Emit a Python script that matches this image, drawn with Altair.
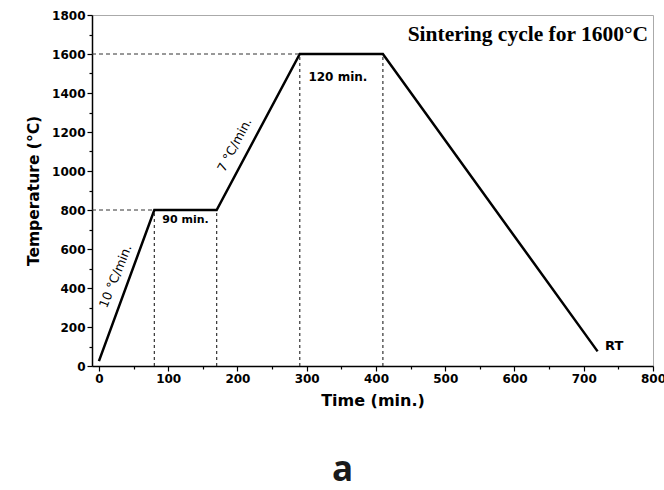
import altair as alt
import pandas as pd

# Main sintering profile
time_min = [0, 80, 170, 290, 410, 720]
temp_c = [25, 800, 800, 1600, 1600, 75]

# Guide lines (dashed)
v_x = [80, 170, 290, 410]
v_top = [800, 800, 1600, 1600]
h_y = [800, 1600]
h_end = [80, 290]

x_ticks = list(range(0, 801, 50))
y_ticks = list(range(0, 1801, 100))

profile = pd.DataFrame({"t": time_min, "T": temp_c})
vdf = pd.DataFrame({"x": v_x, "y0": [0] * len(v_x), "y1": v_top})
hdf = pd.DataFrame({"x0": [-10] * len(h_y), "x1": h_end, "y": h_y})

xs = alt.Scale(domain=[-10, 800], nice=False, zero=False)
ys = alt.Scale(domain=[0, 1800], nice=False)

AXF = "DejaVu Sans"

x_axis = alt.Axis(
    values=x_ticks,
    format="d",
    labelOverlap=False,
    labelFlush=False,
    labelExpr="datum.value % 100 === 0 ? datum.label : ''",
    title="Time (min.)",
    grid=False,
    labelFont=AXF, labelFontWeight="bold", labelFontSize=12, labelColor="black",
    titleFont=AXF, titleFontWeight="bold", titleFontSize=16, titleColor="black",
    titlePadding=8,
    tickSize={"condition": {"test": "datum.value % 100 === 0", "value": 5}, "value": 3},
)
y_axis = alt.Axis(
    values=y_ticks,
    format="d",
    labelOverlap=False,
    labelFlush=False,
    labelExpr="datum.value % 200 === 0 ? datum.label : ''",
    title="Temperature (°C)",
    grid=False,
    labelFont=AXF, labelFontWeight="bold", labelFontSize=12, labelColor="black",
    titleFont=AXF, titleFontWeight="bold", titleFontSize=15.5, titleColor="black",
    titlePadding=10,
    tickSize={"condition": {"test": "datum.value % 200 === 0", "value": 5}, "value": 3},
)


def X(field):
    return alt.X(field, scale=xs, axis=x_axis, title="Time (min.)")


def Y(field):
    return alt.Y(field, scale=ys, axis=y_axis, title="Temperature (°C)")


line = alt.Chart(profile).mark_line(color="black", strokeWidth=2.5, strokeJoin="miter").encode(
    x=X("t:Q"),
    y=Y("T:Q"),
)

vrules = alt.Chart(vdf).mark_rule(color="#333333", strokeWidth=1.2, strokeDash=[3, 3]).encode(
    x=X("x:Q"), y=Y("y0:Q"), y2="y1:Q"
)
hrules = alt.Chart(hdf).mark_rule(color="#333333", strokeWidth=1, strokeDash=[4, 3]).encode(
    x=X("x0:Q"), x2="x1:Q", y=Y("y:Q")
)


def label(text, x, y, size, angle=0, font=AXF, weight="bold", align="center", baseline="middle"):
    return alt.Chart(pd.DataFrame({"x": [x], "y": [y], "s": [text]})).mark_text(
        font=font, fontWeight=weight, fontSize=size, angle=angle, align=align,
        baseline=baseline, color="black"
    ).encode(x=X("x:Q"), y=Y("y:Q"), text="s:N")


texts = [
    label("10 °C/min.", 24, 460, 12.5, angle=292, weight="normal"),
    label("7 °C/min.", 196, 1133, 12.5, angle=298, weight="normal"),
    label("90 min.", 125, 748, 11),
    label("120 min.", 345, 1482, 12),
    label("RT", 744, 105, 13),
    label("Sintering cycle for 1600°C", 793, 1667, 21.5, font="Liberation Serif",
          align="right", baseline="alphabetic"),
]

chart = alt.layer(line, hrules, vrules, *texts).properties(
    width=561,
    height=351,
    padding={"left": 92, "top": 15, "right": 11, "bottom": 124},
    autosize=alt.AutoSizeParams(type="none"),
    title=alt.TitleParams(
        "a", orient="bottom", anchor="middle", font="Open Sans", fontWeight="bold",
        fontSize=35, color="#1a1a1a", dx=-30, offset=45,
    ),
).configure_view(stroke="#aaaaaa", strokeWidth=1).configure_axis(
    domainColor="black", domainWidth=1.5, tickColor="black", tickWidth=1.2
)

chart.save("out.html", embed_options={"renderer": "svg", "actions": False})
